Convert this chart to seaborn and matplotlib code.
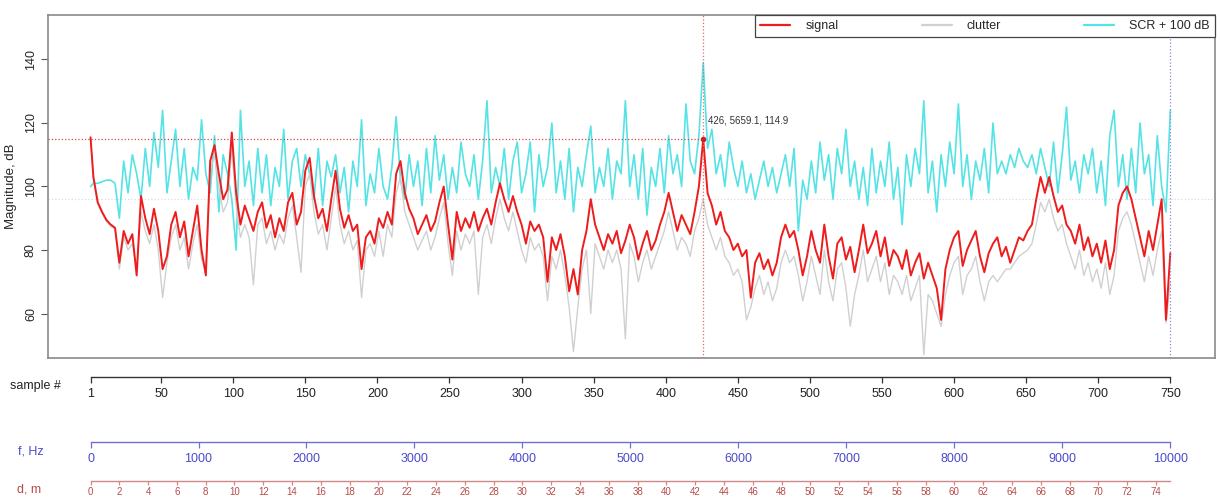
import numpy as np
import pandas as pd
import matplotlib
matplotlib.use("Agg")
import matplotlib.pyplot as plt
from matplotlib.lines import Line2D
import seaborn as sns

# ------------------------------------------------------------------
# data (sample 1 then one value every 3 samples)
# ------------------------------------------------------------------
sample = np.r_[1, np.arange(3, 751, 3)]

signal = [
    115.5,
    103, 95, 92, 89.5, 88, 87, 76, 86, 82, 85,
    72, 97, 90, 85, 93, 86, 74, 78, 88, 92,
    84, 89, 78, 86, 94, 80, 72, 108, 113, 104,
    96, 99, 117, 98, 88, 94, 90, 86, 92, 95,
    87, 91, 84, 90, 86, 95, 98, 88, 92, 105,
    109, 97, 90, 93, 86, 96, 105, 93, 87, 91,
    86, 88, 74, 84, 86, 82, 90, 87, 92, 88,
    104, 108, 98, 93, 90, 85, 88, 91, 86, 89,
    95, 100, 88, 77, 92, 86, 90, 87, 92, 86,
    90, 93, 88, 95, 101, 96, 92, 97, 92, 88,
    82, 89, 86, 88, 84, 70, 84, 80, 85, 78,
    67, 74, 66, 80, 86, 96, 88, 84, 80, 85,
    82, 86, 79, 83, 88, 84, 77, 82, 86, 80,
    83, 88, 92, 98, 92, 86, 91, 88, 85, 92,
    100, 114.9, 98, 94, 88, 92, 86, 84, 80, 82,
    78, 80, 65, 76, 79, 74, 77, 72, 76, 84,
    88, 84, 86, 80, 72, 78, 86, 80, 76, 88,
    78, 71, 82, 84, 77, 81, 73, 80, 88, 79,
    82, 86, 78, 84, 75, 80, 78, 74, 80, 72,
    76, 79, 71, 76, 72, 68, 58, 74, 80, 84,
    86, 75, 80, 83, 86, 78, 73, 79, 82, 84,
    78, 81, 76, 80, 84, 83, 86, 88, 96, 103,
    98, 103, 97, 92, 94, 88, 86, 82, 88, 80,
    84, 78, 82, 76, 83, 74, 80, 94, 98, 100,
    96, 90, 84, 78, 86, 80, 88, 96, 58, 79,
]

clutter = [
    115,
    102, 94.5, 91.5, 89, 87.5, 86.5, 74, 84, 80, 82,
    74, 92, 86, 82, 88, 80, 65, 76, 84, 88,
    80, 84, 74, 82, 88, 77, 74, 105, 110, 100,
    92, 95, 112, 94, 84, 88, 84, 69, 88, 90,
    82, 86, 80, 85, 82, 90, 94, 84, 73, 100,
    104, 92, 85, 88, 80, 90, 100, 88, 82, 86,
    80, 83, 65, 80, 82, 78, 86, 78, 88, 84,
    98, 103, 92, 88, 84, 80, 83, 86, 80, 84,
    90, 95, 82, 72, 86, 80, 85, 82, 86, 66,
    84, 88, 82, 90, 96, 90, 86, 92, 86, 80,
    76, 84, 80, 82, 78, 64, 78, 74, 80, 72,
    62, 48, 62, 74, 80, 60, 82, 78, 74, 80,
    76, 80, 74, 52, 82, 78, 70, 76, 80, 74,
    78, 82, 86, 92, 86, 80, 84, 82, 78, 86,
    90, 96, 88, 84, 80, 84, 78, 76, 72, 74,
    70, 58, 62, 68, 72, 66, 70, 64, 68, 76,
    80, 76, 78, 72, 64, 70, 78, 72, 66, 80,
    70, 64, 74, 76, 68, 56, 66, 72, 80, 70,
    74, 78, 70, 76, 66, 72, 70, 66, 72, 64,
    68, 72, 47, 66, 64, 60, 56, 66, 72, 76,
    78, 66, 72, 74, 78, 70, 64, 70, 72, 70,
    72, 74, 74, 76, 78, 79, 80, 82, 88, 95,
    92, 96, 90, 86, 88, 82, 78, 74, 80, 72,
    76, 70, 74, 68, 76, 66, 72, 86, 90, 92,
    88, 82, 76, 70, 78, 72, 80, 86, 57, 70,
]

scr = [
    100,
    101, 101, 101.5, 102, 102, 101, 90, 108, 98, 110,
    104, 96, 112, 100, 117, 106, 124, 98, 108, 118,
    100, 112, 96, 106, 102, 121, 104, 98, 116, 92,
    110, 104, 96, 80, 124, 100, 108, 94, 112, 98,
    110, 94, 106, 100, 118, 96, 108, 112, 100, 110,
    104, 96, 112, 94, 108, 103, 110, 98, 106, 92,
    108, 100, 121, 94, 104, 98, 112, 100, 96, 106,
    122, 102, 96, 110, 100, 108, 94, 112, 98, 116,
    102, 110, 96, 106, 98, 114, 104, 100, 110, 96,
    108, 127, 98, 106, 100, 112, 96, 108, 114, 98,
    104, 114, 92, 110, 100, 106, 120, 98, 108, 96,
    112, 92, 106, 100, 110, 119, 98, 106, 100, 112,
    96, 108, 104, 127, 100, 110, 96, 112, 91, 106,
    100, 112, 98, 116, 104, 110, 100, 126, 108, 104,
    116, 139, 112, 118, 104, 110, 100, 114, 106, 100,
    108, 98, 104, 96, 102, 108, 100, 106, 98, 104,
    110, 100, 112, 86, 102, 96, 108, 98, 114, 102,
    110, 96, 112, 104, 118, 100, 108, 96, 106, 94,
    112, 98, 108, 100, 114, 96, 106, 88, 110, 100,
    112, 104, 127, 98, 108, 92, 110, 100, 114, 104,
    126, 100, 110, 96, 108, 102, 112, 98, 120, 104,
    108, 104, 110, 106, 112, 108, 106, 110, 104, 112,
    106, 100, 114, 98, 110, 125, 102, 108, 98, 110,
    104, 112, 98, 108, 94, 116, 124, 100, 110, 96,
    112, 98, 120, 104, 110, 94, 116, 100, 92, 124,
]

peak_sample = 426
peak_freq = 5659.1
peak_db = 114.9
noise_level = 96.2

y_ticks = [60, 80, 100, 120, 140]
sample_ticks = [1, 50, 100, 150, 200, 250, 300, 350, 400, 450, 500, 550, 600, 650, 700, 750]
freq_ticks = [0, 1000, 2000, 3000, 4000, 5000, 6000, 7000, 8000, 9000, 10000]
freq_max = 10000
dist_max = 75

df = pd.DataFrame({"sample": sample, "signal": signal, "clutter": clutter, "scr": scr})

# ------------------------------------------------------------------
# style
# ------------------------------------------------------------------
sns.set_theme(style="white")
plt.rcParams["font.family"] = ["Liberation Sans", "DejaVu Sans"]

RED = "#ee1c1c"
GREY = "#d0d0d0"
CYAN = "#55e3e6"
BLUE = "#4b4bcc"
DRED = "#b84a4a"

W, H = 1220, 498
fig = plt.figure(figsize=(W / 100, H / 100), dpi=100)

left, right = 48 / W, 1215 / W
ax = fig.add_axes([left, 1 - 358 / H, right - left, 343 / H])

xlim = (-28.5, 781)

sns.lineplot(data=df, x="sample", y="scr", ax=ax, color=CYAN, lw=1.2, zorder=2)
sns.lineplot(data=df, x="sample", y="clutter", ax=ax, color=GREY, lw=1.0, zorder=3)
sns.lineplot(data=df, x="sample", y="signal", ax=ax, color=RED, lw=1.4, zorder=4)

ax.set_xlim(*xlim)
ax.set_ylim(46, 154)

# cursor lines
ax.axhline(noise_level, color="#dcdcdc", ls=":", lw=0.9, zorder=1)
ax.axvline(peak_sample, color="#e06a6a", ls=":", lw=0.9, zorder=5)
ax.axvline(sample[-1], color="#8888dd", ls=":", lw=0.9, zorder=5)
ax.hlines(peak_db, xlim[0], peak_sample, color="#d04a4a", ls=":", lw=0.9, zorder=5)
ax.plot([peak_sample], [peak_db], "o", color="#d02020", ms=3, zorder=6)
ax.text(peak_sample + 3, peak_db + 6, f"{peak_sample}, {peak_freq}, {peak_db}",
        fontsize=7, color="#333333", va="center", ha="left")

ax.set_xticks([])
ax.set_xlabel("")
ax.set_yticks(y_ticks)
ax.set_yticklabels([str(t) for t in y_ticks], rotation=90, va="center")
ax.set_ylabel("Magnitude, dB", fontsize=9.5, labelpad=6)
ax.tick_params(axis="y", length=5, width=0.8, color="#555555", labelsize=9, pad=3, left=True)
for sp in ax.spines.values():
    sp.set_color("#8a8a8a")
    sp.set_linewidth(1.2)

handles = [Line2D([], [], color=RED, lw=1.6),
           Line2D([], [], color=GREY, lw=1.6),
           Line2D([], [], color=CYAN, lw=1.6)]
leg = ax.legend(handles, ["signal", "clutter", "SCR + 100 dB"], ncol=3,
                loc="upper right", bbox_to_anchor=(0.606, 0.905, 0.394, 0.095),
                mode="expand", borderaxespad=0, fancybox=False, framealpha=1,
                edgecolor="#444444", fontsize=9, handlelength=2.4,
                handletextpad=1.2)
leg.get_frame().set_linewidth(0.9)


# ------------------------------------------------------------------
# extra scales under the plot
# ------------------------------------------------------------------
def scale_axis(y_px, lim, bounds, ticks, labels, color, lcolor, length, pad,
               size=9, minor=None):
    a = fig.add_axes([left, 1 - y_px / H, right - left, 0.0001])
    a.set_xlim(*lim)
    a.set_yticks([])
    a.patch.set_visible(False)
    for name in ("top", "left", "right"):
        a.spines[name].set_visible(False)
    a.spines["bottom"].set_bounds(*bounds)
    a.spines["bottom"].set_color(lcolor)
    a.spines["bottom"].set_linewidth(1.0)
    a.set_xticks(ticks)
    a.set_xticklabels(labels)
    if minor is not None:
        a.set_xticks(minor, minor=True)
        a.tick_params(axis="x", which="minor", length=length, width=0.9, color=lcolor)
    a.tick_params(axis="x", which="major", length=length, width=0.9, color=lcolor,
                  labelcolor=color, labelsize=size, pad=pad, bottom=True)
    return a


# sample #
scale_axis(376.6, xlim, (1, 750), sample_ticks, [str(t) for t in sample_ticks],
           "#222222", "#333333", 4, 4)
fig.text(10 / W, 1 - 386 / H, "sample #", fontsize=9, color="#222222", va="center", ha="left")

# f, Hz
f_per_sample = freq_max / (sample[-1] - 1)
flim = ((xlim[0] - 1) * f_per_sample, (xlim[1] - 1) * f_per_sample)
scale_axis(442, flim, (0, freq_max), freq_ticks, [str(t) for t in freq_ticks],
           BLUE, "#7070d8", 4, 4)
fig.text(18 / W, 1 - 451 / H, "f, Hz", fontsize=9, color=BLUE, va="center", ha="left")

# d, m
d_per_sample = dist_max / (sample[-1] - 1)
dlim = ((xlim[0] - 1) * d_per_sample, (xlim[1] - 1) * d_per_sample)
d_major = list(range(0, dist_max, 2))
d_minor = list(range(1, dist_max + 1, 2))
scale_axis(481, dlim, (0, dist_max), d_major, [str(t) for t in d_major],
           DRED, "#d08888", 3, 1, size=7, minor=d_minor)
fig.text(17 / W, 1 - 489 / H, "d, m", fontsize=9, color=DRED, va="center", ha="left")

fig.savefig("out.png", dpi=100)
